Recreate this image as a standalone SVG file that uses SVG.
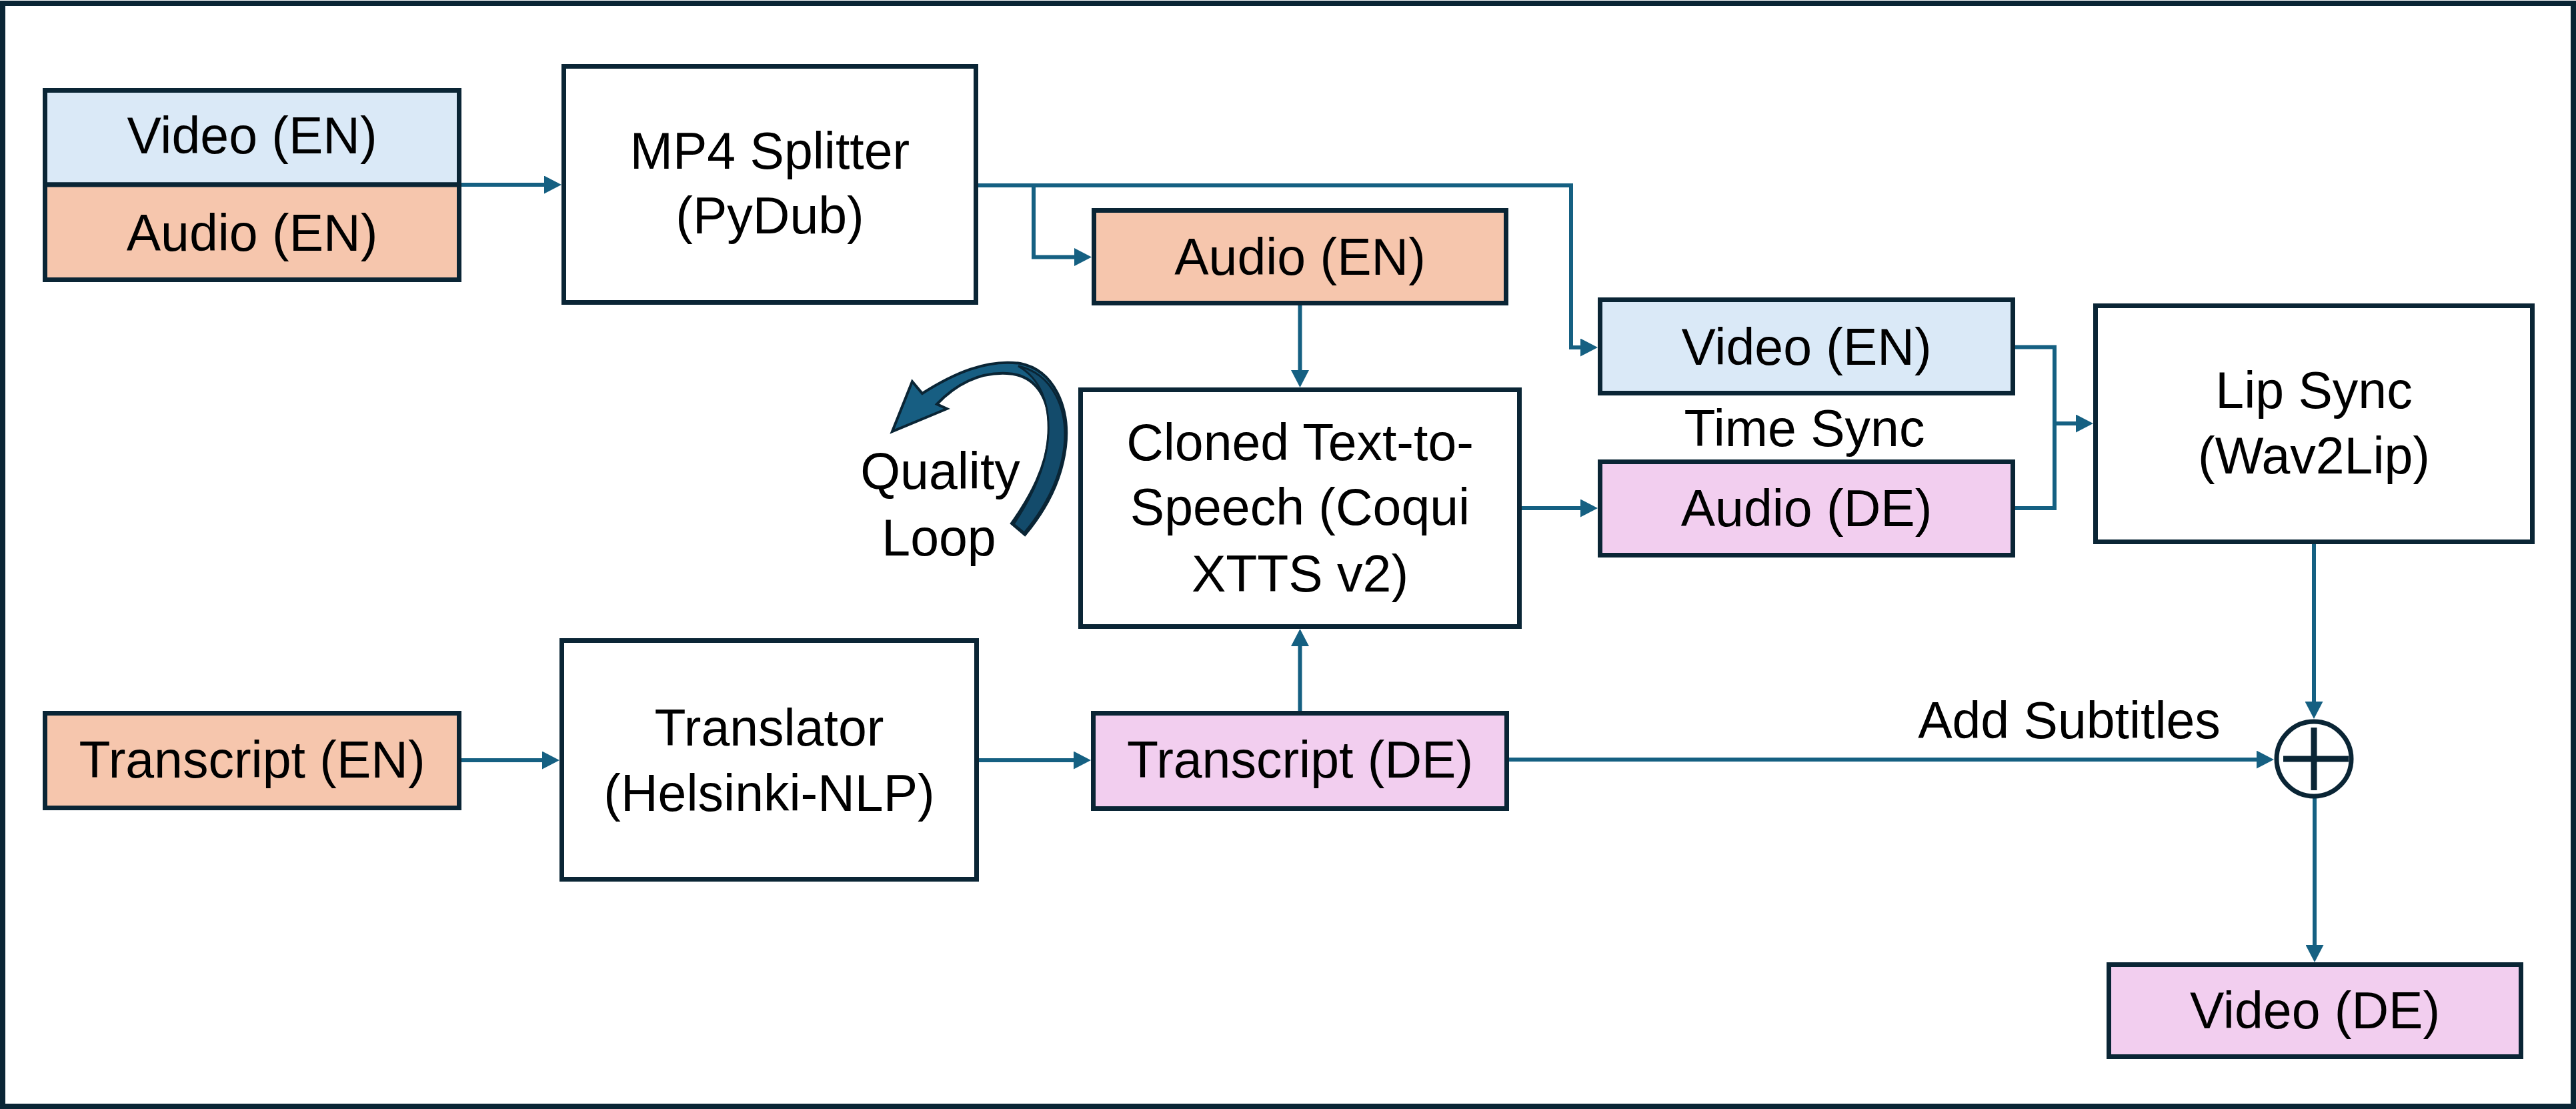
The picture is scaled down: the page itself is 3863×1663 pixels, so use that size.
<svg xmlns="http://www.w3.org/2000/svg" width="3863" height="1663" viewBox="0 0 3863 1663">
  <style>
    .box { stroke: #0A2535; stroke-width: 7; }
    .plain { fill: #FFFFFF; }
    .blue { fill: #DAE9F7; }
    .peach { fill: #F6C6AD; }
    .pink { fill: #F2CEEF; }
    .lbl { font-family: "Liberation Sans", Arial, sans-serif; font-size: 77px; fill: #000000; text-anchor: middle; }
    .conn { fill: none; stroke: #156082; stroke-width: 6; }
  </style>
  <defs>
    <marker id="ah" markerUnits="userSpaceOnUse" viewBox="0 0 26 27" markerWidth="26" markerHeight="27" refX="16" refY="13.5" orient="auto">
      <path d="M0,0 L26,13.5 L0,27 Z" fill="#156082"/>
    </marker>
  </defs>

  <rect x="4" y="5" width="3855" height="1654" fill="#FFFFFF" stroke="#0A2535" stroke-width="8"/>

  <g id="connectors">
    <path class="conn" d="M692,277 H832" marker-end="url(#ah)"/>
    <path class="conn" d="M1467,278 H2356 V521 H2386" marker-end="url(#ah)"/>
    <path class="conn" d="M1550,278 V385.5 H1627" marker-end="url(#ah)"/>
    <path class="conn" d="M1949.5,458 V571" marker-end="url(#ah)"/>
    <path class="conn" d="M1949.5,1066 V953" marker-end="url(#ah)"/>
    <path class="conn" d="M2282,762 H2386" marker-end="url(#ah)"/>
    <path class="conn" d="M3022,520.5 H3081 V762 H3022"/>
    <path class="conn" d="M3081,635 H3129" marker-end="url(#ah)"/>
    <path class="conn" d="M3470,816 V1068" marker-end="url(#ah)"/>
    <path class="conn" d="M2263,1139 H3400" marker-end="url(#ah)"/>
    <path class="conn" d="M3471,1197 V1433" marker-end="url(#ah)"/>
    <path class="conn" d="M692,1140 H829" marker-end="url(#ah)"/>
    <path class="conn" d="M1468,1140 H1626" marker-end="url(#ah)"/>
  </g>

  <g id="video-en-input">
    <rect class="box blue" x="67.5" y="135.5" width="621" height="141.5"/>
    <text class="lbl" x="378" y="230">Video (EN)</text>
  </g>
  <g id="audio-en-input">
    <rect class="box peach" x="67.5" y="277" width="621" height="142.5"/>
    <text class="lbl" x="378" y="376">Audio (EN)</text>
  </g>

  <g id="mp4-splitter">
    <rect class="box plain" x="845.5" y="99.5" width="618" height="354"/>
    <text class="lbl" x="1154.5" y="253">MP4 Splitter</text>
    <text class="lbl" x="1154.5" y="350">(PyDub)</text>
  </g>

  <g id="audio-en">
    <rect class="box peach" x="1640.5" y="315.5" width="618" height="139"/>
    <text class="lbl" x="1949.5" y="412">Audio (EN)</text>
  </g>

  <g id="cloned-tts">
    <rect class="box plain" x="1620.5" y="584.5" width="658" height="355"/>
    <text class="lbl" x="1949.5" y="690">Cloned Text-to-</text>
    <text class="lbl" x="1949.5" y="787">Speech (Coqui</text>
    <text class="lbl" x="1949.5" y="887">XTTS v2)</text>
  </g>

  <g id="video-en">
    <rect class="box blue" x="2399.5" y="449.5" width="619" height="140"/>
    <text class="lbl" x="2709" y="547">Video (EN)</text>
  </g>

  <g id="time-sync">
    <text class="lbl" x="2706" y="669">Time Sync</text>
  </g>

  <g id="audio-de">
    <rect class="box pink" x="2399.5" y="692.5" width="619" height="140"/>
    <text class="lbl" x="2709" y="789">Audio (DE)</text>
  </g>

  <g id="lip-sync">
    <rect class="box plain" x="3142.5" y="458.5" width="655" height="354"/>
    <text class="lbl" x="3470" y="612">Lip Sync</text>
    <text class="lbl" x="3470" y="710">(Wav2Lip)</text>
  </g>

  <g id="quality-loop">
    <path d="M1338,647 L1368,572 L1383,590 C1430,560 1480,538 1530,545 C1580,555 1605,610 1598,670 C1592,720 1568,765 1537,802 L1517,785 C1545,745 1570,700 1573,650 C1576,600 1555,562 1510,560 C1470,558 1435,575 1405,606 L1420,613 Z" fill="#175E82" stroke="#0A2535" stroke-width="4" stroke-linejoin="miter"/>
    <path d="M1527,549 C1578,560 1602,612 1596,670 C1590,720 1566,763 1536,799 L1520,786 C1547,746 1570,700 1572,650 C1574,604 1560,568 1527,549 Z" fill="#134B6B" stroke="#0A2535" stroke-width="3"/>
    <text class="lbl" x="1410" y="733">Quality</text>
    <text class="lbl" x="1408" y="833">Loop</text>
  </g>

  <g id="transcript-en">
    <rect class="box peach" x="67.5" y="1069.5" width="621" height="142"/>
    <text class="lbl" x="378" y="1166">Transcript (EN)</text>
  </g>

  <g id="translator">
    <rect class="box plain" x="842.5" y="960.5" width="622" height="358"/>
    <text class="lbl" x="1153.5" y="1118">Translator</text>
    <text class="lbl" x="1153.5" y="1216">(Helsinki-NLP)</text>
  </g>

  <g id="transcript-de">
    <rect class="box pink" x="1639.5" y="1069.5" width="620" height="143"/>
    <text class="lbl" x="1949.5" y="1166">Transcript (DE)</text>
  </g>

  <g id="add-subtitles">
    <text class="lbl" x="3103" y="1107">Add Subtitles</text>
  </g>

  <g id="sum-node">
    <circle cx="3470" cy="1138" r="56" fill="#FFFFFF" stroke="#0A2535" stroke-width="7"/>
    <path d="M3424,1138 H3522 M3470,1091 V1185" stroke="#0A2535" stroke-width="9" fill="none"/>
  </g>

  <g id="video-de">
    <rect class="box pink" x="3162.5" y="1446.5" width="618" height="138"/>
    <text class="lbl" x="3471.5" y="1542">Video (DE)</text>
  </g>
</svg>
